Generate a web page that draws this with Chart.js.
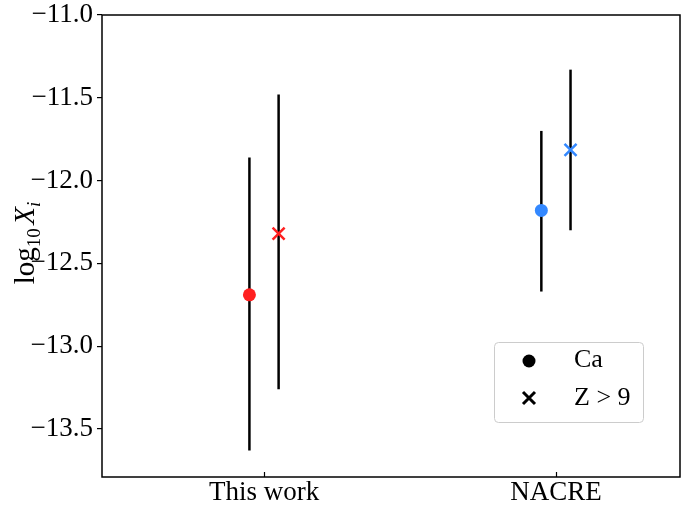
<!DOCTYPE html>
<html>
<head>
<meta charset="utf-8">
<script src="https://cdn.jsdelivr.net/npm/chart.js@4"></script>
<style>
html,body{margin:0;padding:0;background:#fff;}
#wrap{width:682px;height:506px;}
</style>
</head>
<body>
<div id="wrap"><canvas id="c" width="682" height="506"></canvas></div>
<script>
// ---- data ----
const categories = ['This work', 'NACRE'];
const categoryPos = [0, 1];
const seriesNames = ['Ca', 'Z > 9'];
const seriesOffset = [-0.05, 0.05];
const caValues = [-12.69, -12.18];
const caLow = [-13.63, -12.67];
const caHigh = [-11.86, -11.70];
const zValues = [-12.32, -11.815];
const zLow = [-13.26, -12.30];
const zHigh = [-11.48, -11.33];
const yTicks = [-13.5, -13.0, -12.5, -12.0, -11.5, -11.0];
const pointColors = ['#ff2020', '#3388ff'];

const FONT = '"Liberation Serif", "DejaVu Serif", serif';

function errData(vals, lo, hi, off) {
  return vals.map((v, i) => ({ x: categoryPos[i] + off, y: v, lo: lo[i], hi: hi[i] }));
}

const errorBarPlugin = {
  id: 'errbars',
  beforeDatasetsDraw(chart) {
    const ctx = chart.ctx, xs = chart.scales.x, ys = chart.scales.y;
    const a = chart.chartArea;
    ctx.save();
    ctx.strokeStyle = '#000';
    ctx.lineWidth = 1.5;
    ctx.strokeRect(a.left, a.top, a.right - a.left, a.bottom - a.top);
    ctx.lineWidth = 1.2;
    categoryPos.forEach(p => {
      const px = Math.round(xs.getPixelForValue(p)) + 0.5;
      ctx.beginPath(); ctx.moveTo(px, a.bottom); ctx.lineTo(px, a.bottom - 5); ctx.stroke();
    });
    ctx.lineWidth = 2.5;
    chart.data.datasets.forEach(ds => {
      ds.data.forEach(d => {
        const px = xs.getPixelForValue(d.x);
        ctx.beginPath();
        ctx.moveTo(px, ys.getPixelForValue(d.lo));
        ctx.lineTo(px, ys.getPixelForValue(d.hi));
        ctx.stroke();
      });
    });
    ctx.restore();
  },
  afterDraw(chart) {
    const ctx = chart.ctx;
    ctx.save();
    ctx.translate(25, 243);
    ctx.rotate(-Math.PI / 2);
    ctx.fillStyle = '#000';
    ctx.textBaseline = 'alphabetic';
    const parts = [
      { t: 'log', f: '29px ' + FONT, dy: 0 },
      { t: '10', f: '19px ' + FONT, dy: 6 },
      { t: ' ', f: '14px ' + FONT, dy: 0 },
      { t: 'X', f: 'italic 29px ' + FONT, dy: 0 },
      { t: 'i', f: 'italic 19px ' + FONT, dy: 6 }
    ];
    let w = 0;
    parts.forEach(p => { ctx.font = p.f; w += ctx.measureText(p.t).width; });
    let x = -w / 2;
    parts.forEach(p => { ctx.font = p.f; ctx.fillText(p.t, x, 9 + p.dy); x += ctx.measureText(p.t).width; });
    ctx.restore();

    ctx.save();
    const lx = 494, ly = 342, lw = 149, lh = 80, r = 4;
    ctx.fillStyle = 'rgba(255,255,255,0.9)';
    ctx.strokeStyle = '#cccccc';
    ctx.lineWidth = 1;
    ctx.beginPath();
    ctx.roundRect(lx + 0.5, ly + 0.5, lw, lh, r);
    ctx.fill(); ctx.stroke();
    ctx.fillStyle = '#000';
    ctx.beginPath(); ctx.arc(529, 361, 6.5, 0, Math.PI * 2); ctx.fill();
    ctx.strokeStyle = '#000'; ctx.lineWidth = 3;
    ctx.beginPath();
    ctx.moveTo(523, 392); ctx.lineTo(535, 404);
    ctx.moveTo(535, 392); ctx.lineTo(523, 404);
    ctx.stroke();
    ctx.font = '26px ' + FONT;
    ctx.textBaseline = 'middle';
    ctx.fillText(seriesNames[0], 574, 360);
    ctx.fillText(seriesNames[1], 574, 398);
    ctx.restore();
  }
};

new Chart(document.getElementById('c'), {
  type: 'scatter',
  data: {
    datasets: [
      {
        label: seriesNames[0],
        data: errData(caValues, caLow, caHigh, seriesOffset[0]),
        pointStyle: 'circle',
        pointRadius: 6.5,
        pointHoverRadius: 6.5,
        backgroundColor: pointColors,
        borderColor: pointColors,
        borderWidth: 0
      },
      {
        label: seriesNames[1],
        data: errData(zValues, zLow, zHigh, seriesOffset[1]),
        pointStyle: 'crossRot',
        pointRadius: 8.5,
        pointHoverRadius: 8.5,
        backgroundColor: pointColors,
        borderColor: pointColors,
        borderWidth: 2.5
      }
    ]
  },
  options: {
    responsive: false,
    animation: false,
    events: [],
    layout: { autoPadding: false, padding: { top: 15, right: 2, left: 0, bottom: 0 } },
    plugins: { legend: { display: false }, tooltip: { enabled: false } },
    scales: {
      x: {
        type: 'linear',
        min: -0.555,
        max: 1.425,
        afterBuildTicks: s => { s.ticks = categoryPos.map(v => ({ value: v })); },
        afterFit: s => { s.height = 29; s.paddingLeft = 0; s.paddingRight = 0; },
        border: { display: false },
        grid: { display: false, drawTicks: false },
        ticks: {
          callback: v => categories[categoryPos.indexOf(v)] || '',
          color: '#000',
          font: { family: FONT, size: 27 },
          padding: 0,
          maxRotation: 0,
          autoSkip: false
        }
      },
      y: {
        min: -13.79,
        max: -11.0,
        afterBuildTicks: s => { s.ticks = yTicks.map(v => ({ value: v })); },
        afterFit: s => { s.width = 102; s.paddingTop = 0; s.paddingBottom = 0; },
        border: { display: false },
        grid: { display: true, drawOnChartArea: false, drawTicks: true, tickLength: 5, color: '#000', lineWidth: 1.2 },
        ticks: {
          callback: v => (v < 0 ? '\u2212' : '') + Math.abs(v).toFixed(1),
          color: '#000',
          font: { family: FONT, size: 27 },
          padding: 4,
          autoSkip: false
        }
      }
    }
  },
  plugins: [errorBarPlugin]
});
</script>
</body>
</html>
